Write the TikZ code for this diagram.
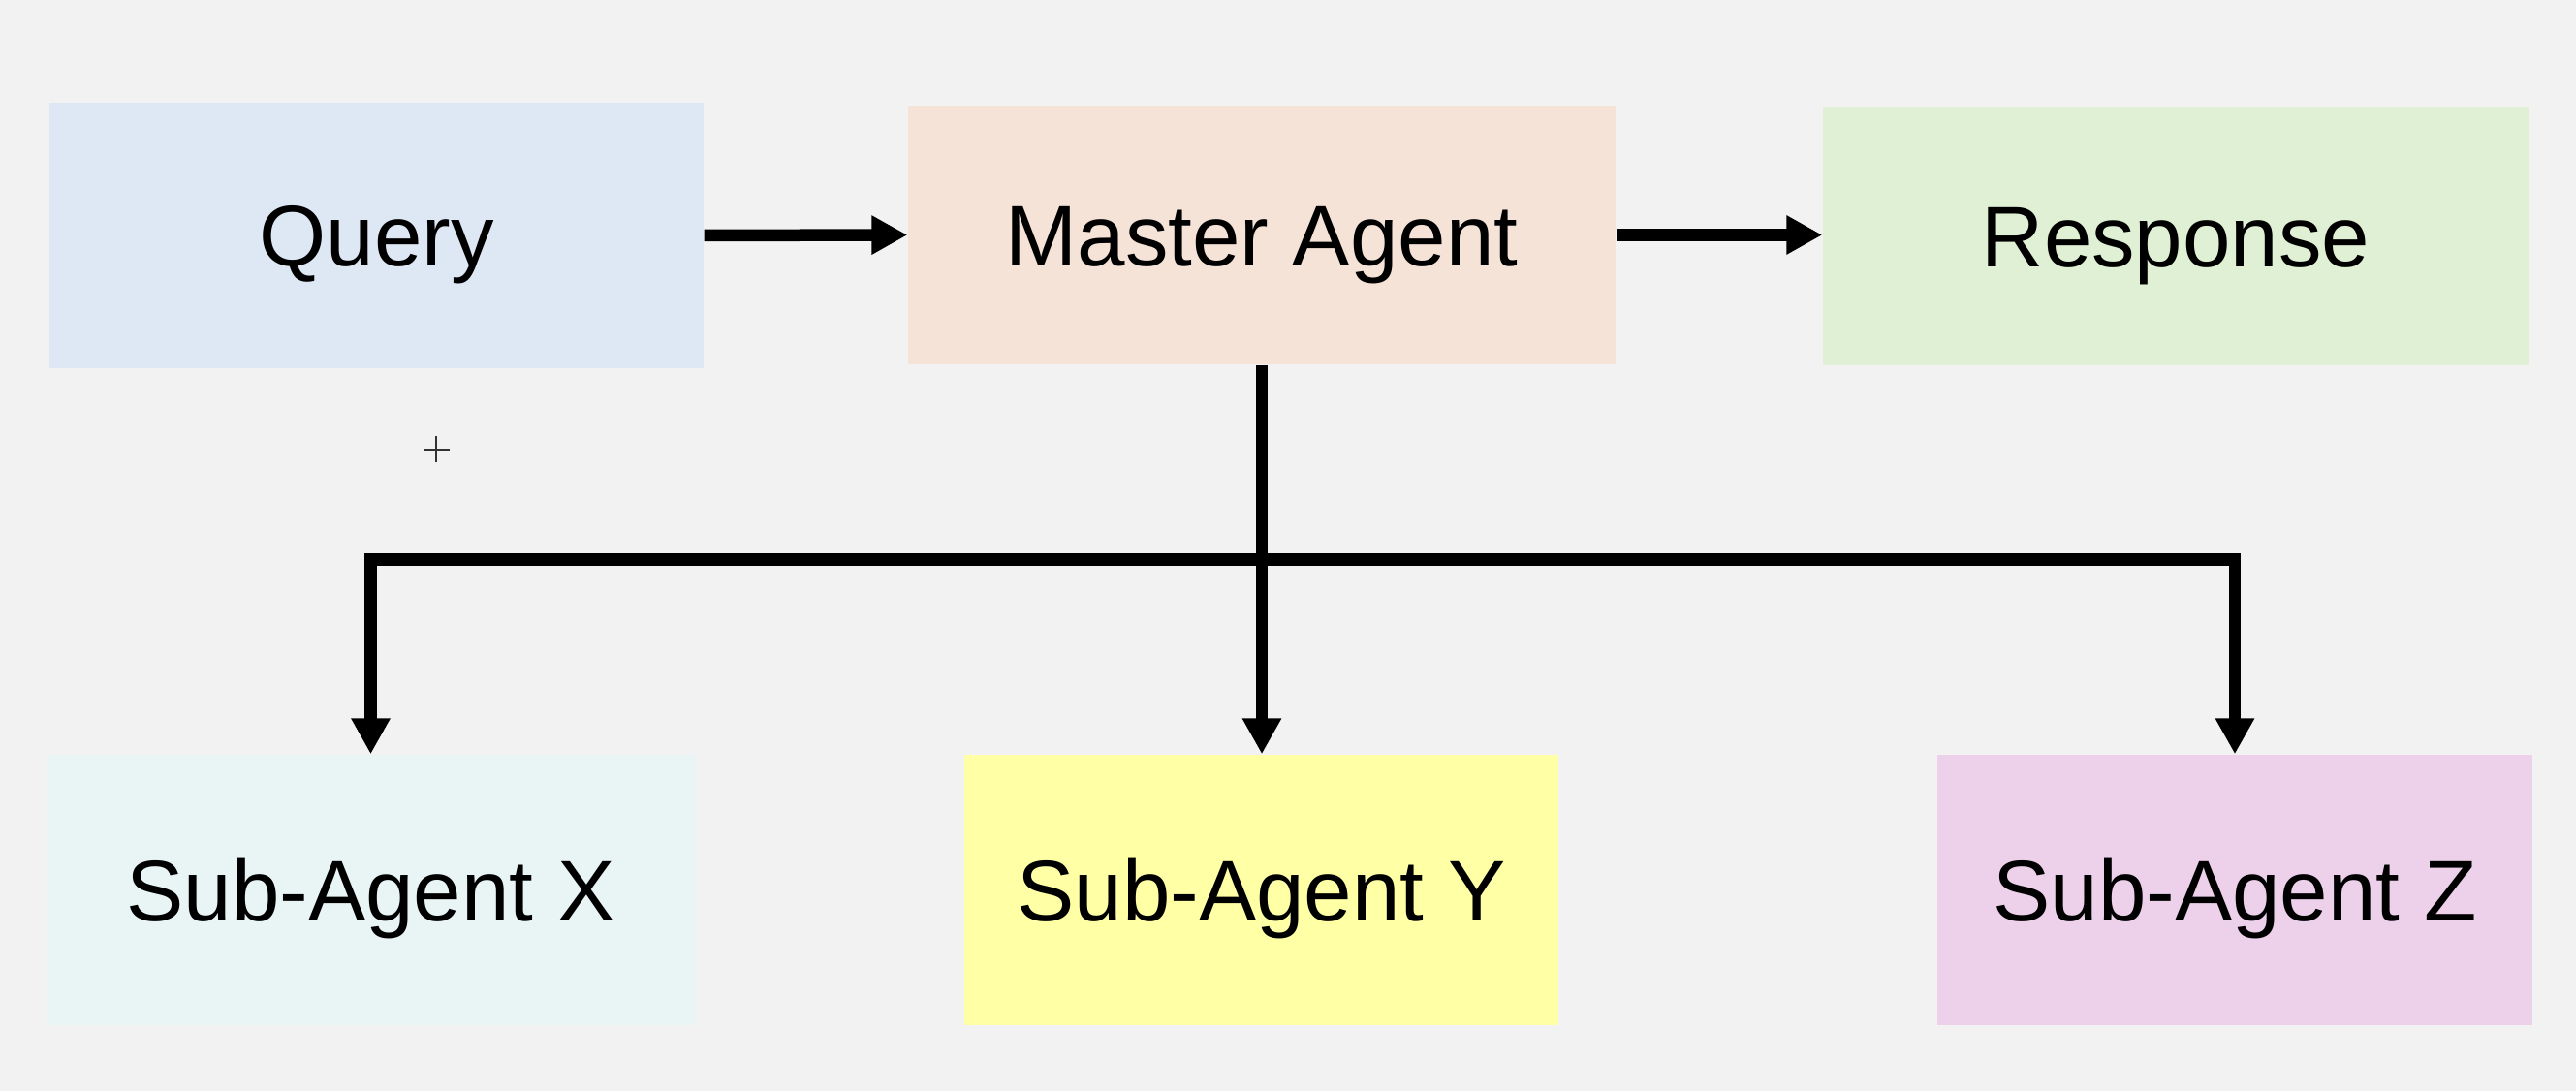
\documentclass[tikz,border=0pt]{standalone}
\usepackage{fontspec}
\setmainfont{Liberation Sans}
\usetikzlibrary{arrows.meta}
\definecolor{bgc}{HTML}{F2F2F2}
\definecolor{qc}{HTML}{DEE8F4}
\definecolor{mc}{HTML}{F6E3D8}
\definecolor{rc}{HTML}{DFF0D4}
\definecolor{xc}{HTML}{E9F5F5}
\definecolor{yc}{HTML}{FFFFA5}
\definecolor{zc}{HTML}{EDD0EA}
\definecolor{pc}{HTML}{333333}
\tikzset{
  box/.style={rectangle, draw=none, inner sep=0pt, font=\fontsize{25.3}{30}\selectfont,
    text height=18.1pt, text depth=0pt},
  conn/.style={line width=0.125cm, draw=black, -{Triangle[length=0.37cm,width=0.38cm]}},
}
\begin{document}
\begin{tikzpicture}
\fill[bgc] (0,0) rectangle (26.58,11.26);
\useasboundingbox (0,0) rectangle (26.58,11.26);
% boxes (y = (1126 - ypx)/100)
\node[box, fill=qc, minimum width=6.75cm, minimum height=2.74cm] (query) at (3.885,8.83) {Query};
\node[box, fill=mc, minimum width=7.30cm, minimum height=2.67cm] (master) at (13.02,8.835) {Master Agent};
\node[box, fill=rc, minimum width=7.28cm, minimum height=2.67cm] (resp) at (22.45,8.825) {Response};
\node[box, fill=xc, minimum width=6.69cm, minimum height=2.79cm] (subx) at (3.825,2.075) {Sub-Agent X};
\node[box, fill=yc, minimum width=6.13cm, minimum height=2.79cm] (suby) at (13.015,2.075) {Sub-Agent Y};
\node[box, fill=zc, minimum width=6.145cm, minimum height=2.79cm] (subz) at (23.06,2.075) {Sub-Agent Z};
% connectors
\coordinate (bar) at (13.02,5.485);
\draw[conn] (query.east) -- (master.west);
\draw[conn] (master.east) -- (master.east -| resp.west);
\draw[conn] (master.south) -- (master.south |- suby.north);
\draw[conn] (bar) -| (subx.north);
\draw[conn] (bar) -| (subz.north);
% small plus mark
\draw[pc, line width=0.6pt] (4.365,6.62) -- (4.635,6.62);
\draw[pc, line width=0.6pt] (4.50,6.485) -- (4.50,6.755);
\end{tikzpicture}
\end{document}
